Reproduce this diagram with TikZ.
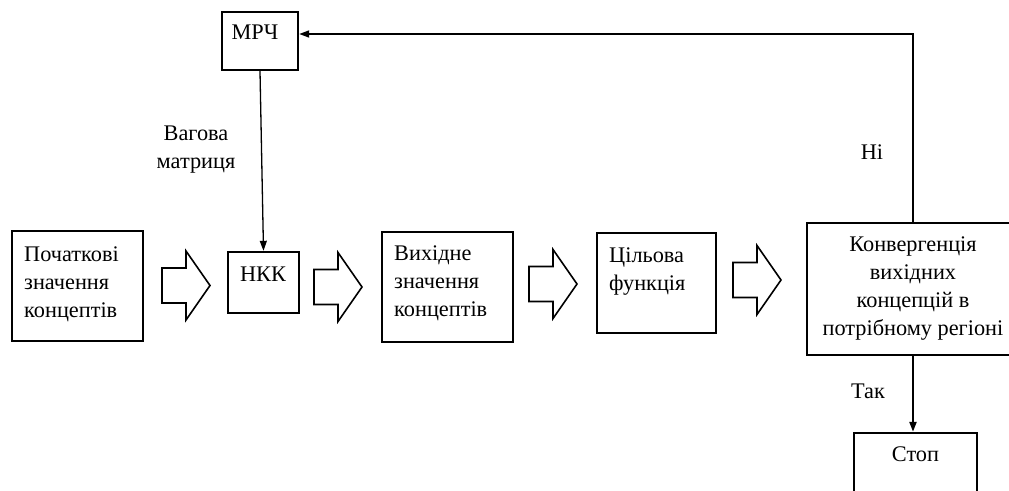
\documentclass[tikz,border=0pt]{standalone}
\usepackage{fontspec}
\setmainfont{Liberation Serif}
\usetikzlibrary{arrows.meta,calc}
\begin{document}
\begin{tikzpicture}[x=1pt,y=-1pt,
  box/.style={draw,line width=2.4pt,inner sep=0pt,rectangle},
  txt/.style={inner sep=0pt,font=\fontsize{22.3}{28}\selectfont},
  conn/.style={draw,line width=1.7pt,-{Triangle[length=10pt,width=7pt]}},
  blockarr/.style={draw,line width=1.6pt,line join=miter}]
\useasboundingbox (0,0) rectangle (1009,490);
% boxes
\node[box,minimum width=131pt,minimum height=110pt] (init) at (77.5,286) {};
\node[box,minimum width=71pt,minimum height=61pt] (nkk) at (263.5,282.5) {};
\node[box,minimum width=76pt,minimum height=58pt] (mrc) at (260,41) {};
\node[box,minimum width=131pt,minimum height=110pt] (out) at (447.5,287) {};
\node[box,minimum width=119pt,minimum height=100pt] (goal) at (656.5,283) {};
\node[box,minimum width=212pt,minimum height=132pt] (conv) at (913,289) {};
\node[box,minimum width=123pt,minimum height=67pt] (stop) at (915.5,466.5) {};
% texts (base anchor = baseline of the last line)
\node[txt,anchor=base west,align=left] (tinit) at (24,317) {Початкові\\значення\\концептів};
\node[txt,anchor=base] (tnkk) at (263,281) {НКК};
\node[txt,anchor=base] (tmrc) at (255,39) {МРЧ};
\node[txt,anchor=base west,align=left] (tout) at (394,316) {Вихідне\\значення\\концептів};
\node[txt,anchor=base west,align=left] (tgoal) at (609,290) {Цільова\\функція};
\node[txt,anchor=base,align=center] (tconv) at (913,335.7) {Конвергенція\\вихідних\\концепцій в\\потрібному регіоні};
\node[txt,anchor=base] (tstop) at (915.5,461) {Стоп};
\node[txt,anchor=base,align=center] (tw) at (196,168) {Вагова\\матриця};
\node[txt,anchor=base] (tno) at (872,159) {Ні};
\node[txt,anchor=base] (tyes) at (868,398) {Так};
% connectors
\coordinate (fb) at (913,34);
\draw[conn,line width=1.3pt] (mrc.south) -- (nkk.north);
\draw[conn] (conv.north) -- (fb) -- (fb -| mrc.east);
\draw[conn,line width=2.2pt] (conv.south) -- (conv.south |- stop.north);
% block arrows
\foreach \x/\y in {162/285.5, 314/287, 529/284, 733/280}{
  \draw[blockarr] (\x,\y-17.5) -- ++(24,0) -- ++(0,-17) -- ++(24,34.5) -- ++(-24,34.5) -- ++(0,-17) -- ++(-24,0) -- cycle;
}
\end{tikzpicture}
\end{document}
